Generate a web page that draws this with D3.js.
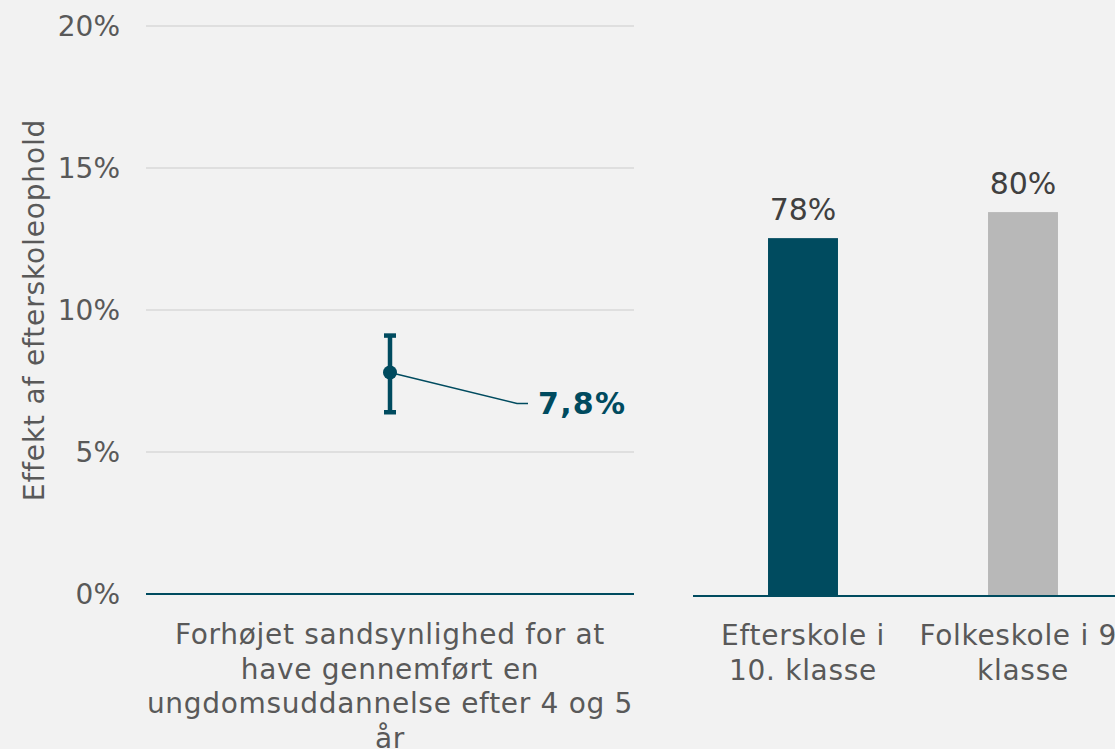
<!DOCTYPE html>
<html>
<head>
<meta charset="utf-8">
<script src="https://cdn.jsdelivr.net/npm/d3@7"></script>
<style>
  body { margin: 0; background: #f2f2f2; }
  svg { display: block; font-family: "DejaVu Sans", Verdana, sans-serif; }
</style>
</head>
<body>
<div id="chart"></div>
<script>
// left panel: estimate with confidence interval
const effectCats = ["Forhøjet sandsynlighed for at|have gennemført en|ungdomsuddannelse efter 4 og 5|år"];
const effectVals = [7.8];
const effectLow = [6.4];
const effectHigh = [9.1];
const effectLabels = ["7,8%"];
const yTicks = [0, 5, 10, 15, 20];

// right panel: share completed
const barCats = ["Efterskole i|10. klasse", "Folkeskole i 9.|klasse"];
const barVals = [78, 80];
const barLabels = ["78%", "80%"];
const barColors = ["#004b5f", "#b8b8b8"];

var width = 1115, height = 749;
var teal = "#004b5f", txt = "#595959";

var svg = d3.select("#chart").append("svg")
    .attr("width", width)
    .attr("height", height);

svg.append("rect").attr("width", width).attr("height", height).attr("fill", "#f2f2f2");

// ---- left panel
var y = d3.scaleLinear().domain([0, 20]).range([594, 26]);
var x = d3.scaleBand().domain(effectCats).range([146, 634]);

// gridlines
svg.append("g").selectAll("line")
    .data(yTicks.filter(d => d > 0))
    .enter().append("line")
    .attr("x1", 146).attr("x2", 634)
    .attr("y1", d => y(d)).attr("y2", d => y(d))
    .attr("stroke", "#d9d9d9").attr("stroke-width", 1.5);

// tick labels
svg.append("g").selectAll("text")
    .data(yTicks)
    .enter().append("text")
    .attr("x", 120).attr("y", d => y(d))
    .attr("dy", "0.36em")
    .attr("text-anchor", "end")
    .attr("font-size", 28)
    .attr("fill", txt)
    .text(d => d + "%");

// axis title
svg.append("text")
    .attr("transform", "translate(44," + y(10) + ") rotate(-90)")
    .attr("text-anchor", "middle")
    .attr("font-size", 28)
    .attr("letter-spacing", 0.85)
    .attr("fill", txt)
    .text("Effekt af efterskoleophold");

// baseline
svg.append("line")
    .attr("x1", 146).attr("x2", 634)
    .attr("y1", y(0)).attr("y2", y(0))
    .attr("stroke", teal).attr("stroke-width", 2);

// category label
effectCats.forEach(function (c) {
    var cx = x(c) + x.bandwidth() / 2;
    var t = svg.append("text")
        .attr("text-anchor", "middle")
        .attr("font-size", 28)
        .attr("letter-spacing", 0.7)
        .attr("fill", txt);
    c.split("|").forEach(function (line, i) {
        t.append("tspan").attr("x", cx).attr("y", 644 + i * 34.5).text(line);
    });
});

// error bar + point
var eg = svg.append("g");
effectVals.forEach(function (v, i) {
    var cx = x(effectCats[i]) + x.bandwidth() / 2;
    eg.append("line")
        .attr("x1", cx).attr("x2", cx)
        .attr("y1", y(effectLow[i])).attr("y2", y(effectHigh[i]))
        .attr("stroke", teal).attr("stroke-width", 4.5);
    [effectLow[i], effectHigh[i]].forEach(function (e) {
        eg.append("line")
            .attr("x1", cx - 6).attr("x2", cx + 6)
            .attr("y1", y(e)).attr("y2", y(e))
            .attr("stroke", teal).attr("stroke-width", 4.5);
    });
    eg.append("circle")
        .attr("cx", cx).attr("cy", y(v)).attr("r", 7)
        .attr("fill", teal);
    // leader line + label
    var lx = cx + 127, ly = y(v) + 31;
    eg.append("polyline")
        .attr("points", [[cx, y(v)], [lx, ly], [lx + 11, ly]].join(" "))
        .attr("fill", "none")
        .attr("stroke", teal).attr("stroke-width", 1.5);
    eg.append("text")
        .attr("x", lx + 21).attr("y", ly)
        .attr("dy", "0.36em")
        .attr("font-size", 30)
        .attr("letter-spacing", 1.3)
        .attr("font-weight", "bold")
        .attr("fill", teal)
        .text(effectLabels[i]);
});

// ---- right panel
var y2 = d3.scaleLinear().domain([50.5, 94.3]).range([596, 26]);
var x2 = d3.scaleBand().domain(barCats).range([693, 1133])
    .paddingInner(0.682).paddingOuter(0.341);

svg.append("g").selectAll("rect")
    .data(barVals)
    .enter().append("rect")
    .attr("x", (d, i) => x2(barCats[i]))
    .attr("width", x2.bandwidth())
    .attr("y", d => y2(d))
    .attr("height", d => y2.range()[0] - y2(d))
    .attr("fill", (d, i) => barColors[i]);

svg.append("g").selectAll("text")
    .data(barVals)
    .enter().append("text")
    .attr("x", (d, i) => x2(barCats[i]) + x2.bandwidth() / 2)
    .attr("y", d => y2(d) - 18)
    .attr("text-anchor", "middle")
    .attr("font-size", 30)
    .attr("fill", "#404040")
    .text((d, i) => barLabels[i]);

svg.append("line")
    .attr("x1", 693).attr("x2", width)
    .attr("y1", 596).attr("y2", 596)
    .attr("stroke", teal).attr("stroke-width", 2);

barCats.forEach(function (c) {
    var cx = x2(c) + x2.bandwidth() / 2;
    var t = svg.append("text")
        .attr("text-anchor", "middle")
        .attr("font-size", 28)
        .attr("letter-spacing", 0.7)
        .attr("fill", txt);
    c.split("|").forEach(function (line, i) {
        t.append("tspan").attr("x", cx).attr("y", 645 + i * 34.5).text(line);
    });
});
</script>
</body>
</html>
